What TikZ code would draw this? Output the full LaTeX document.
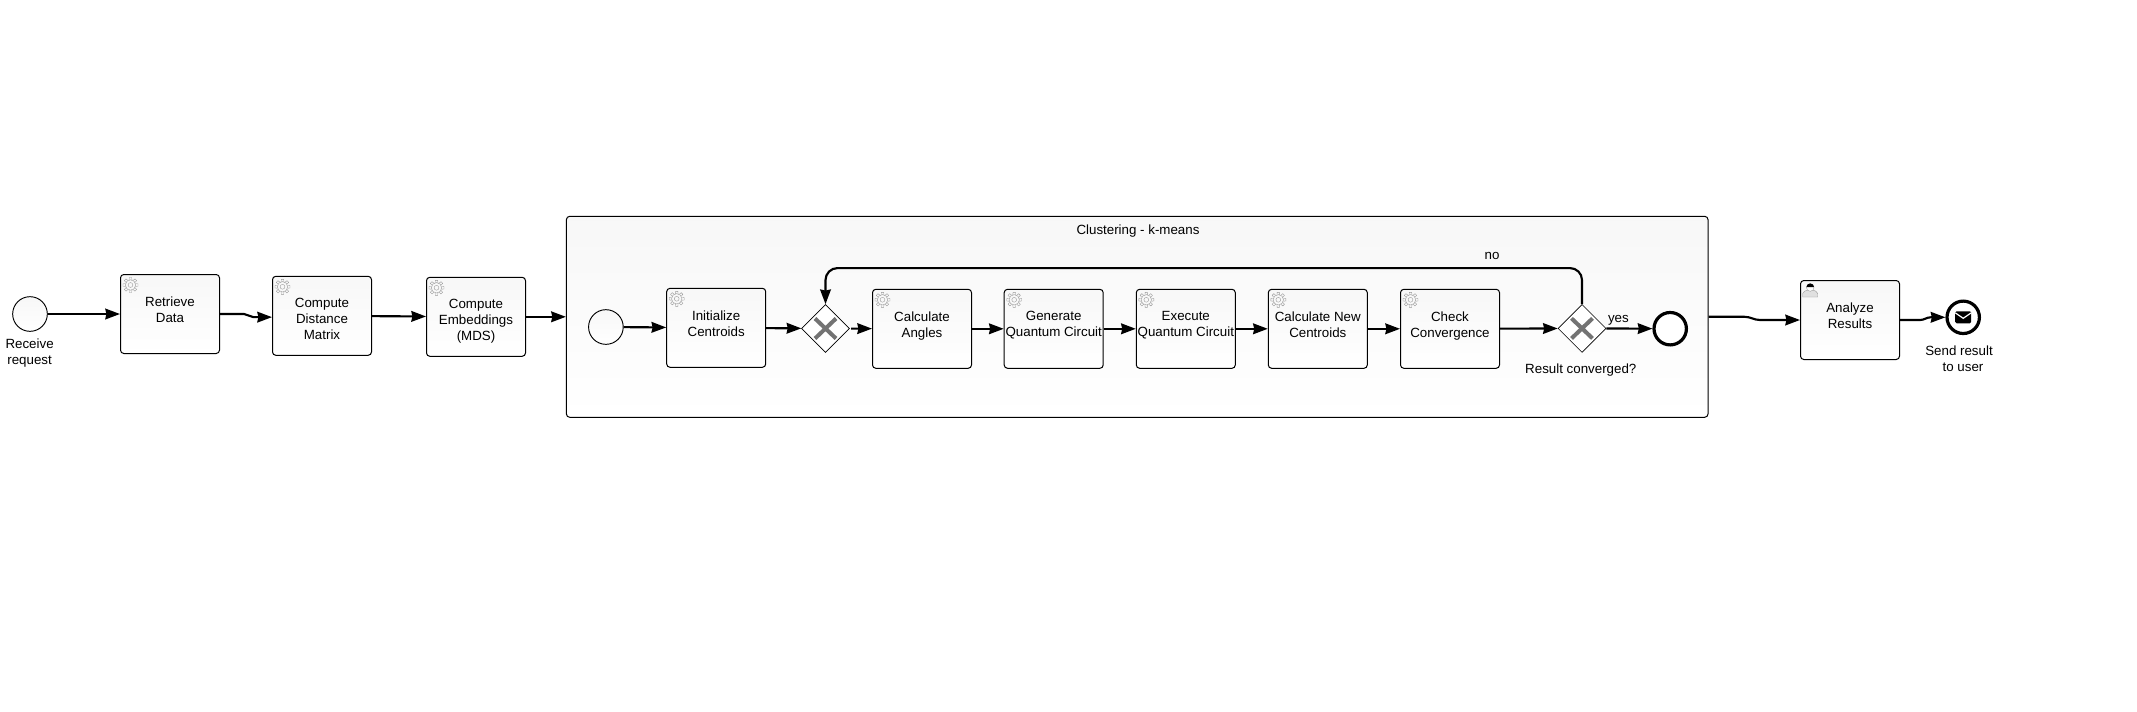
\documentclass[tikz,border=0pt]{standalone}
\usepackage{fontspec}
\setmainfont{Liberation Sans}
\usetikzlibrary{arrows.meta,shapes.geometric}

% text starts at a fixed depth below the top of the box
\newcommand{\tasktext}[1]{\parbox[c][59.25pt][t]{73pt}{\centering\vspace*{16.6pt}#1}}

\tikzset{
  taskbox/.style={draw,line width=.75pt,rounded corners=2.5pt,top color=black!3,bottom color=white,
    minimum width=74.25pt,minimum height=59.25pt,inner sep=0pt},
  eventstart/.style={circle,draw,line width=.7pt,top color=black!3,bottom color=white,minimum size=26pt,inner sep=0pt},
  eventend/.style={circle,draw,line width=2.4pt,fill=white,minimum size=24.3pt,inner sep=0pt},
  gatewaynode/.style={diamond,draw,line width=.5pt,fill=white,minimum width=36pt,minimum height=36pt,inner sep=0pt},
  bpmnlabel/.style={align=center,inner sep=0pt},
  flow/.style={line width=1.6pt,-{Stealth[length=11pt,width=8pt,inset=.8pt]}},
  iconline/.style={draw=black!40,line width=.3pt},
  gearicon/.pic={
    \draw[iconline] (0,0) circle (5.2) (0,0) circle (2.4);
    \foreach \a in {0,45,...,315}
      \draw[iconline] ({\a-15}:5.2) -- ({\a-9}:7.6) -- ({\a+9}:7.6) -- ({\a+15}:5.2);
  },
  personicon/.pic={
    \draw[iconline,fill=black!12] (-7.5,7) -- (-7.5,3.5) .. controls (-7.5,1) and (-4,1) .. (-2.5,0)
      -- (2.5,0) .. controls (4,1) and (7.5,1) .. (7.5,3.5) -- (7.5,7) -- cycle;
    \draw[iconline,fill=white] (0,-2.5) circle (3.8);
    \fill[black] (-3.8,-3) arc (180:360:3.8 and 3.6) -- cycle;
  },
  mailicon/.pic={
    \fill[black,rounded corners=1pt] (-8,-6) rectangle (8,6);
    \draw[white,line width=.9pt] (-8,-4.5) -- (0,1) -- (8,-4.5);
  },
  gatewaycross/.pic={
    \draw[black!55,line width=3pt] (-10.5,-10) -- (10.5,10) (-10.5,10) -- (10.5,-10);
  }
}

\begin{document}
\begin{tikzpicture}[x=.75pt,y=-.75pt]
  \useasboundingbox (0,0) rectangle (2137,711);

  % Outer tasks
  \node[eventstart] (receive) at (30,314) {};
  \node[bpmnlabel] (receivelabel) at (29.6,353.5) {Receive\\request};
  \node[taskbox] (retrieve) at (170,314) {\tasktext{Retrieve\\Data}};
  \node[taskbox] (distance) at (322,315.8) {\tasktext{Compute\\Distance\\Matrix}};
  \node[taskbox] (embed) at (476,316.8) {\tasktext{Compute\\Embeddings\\(MDS)}};

  % Subprocess
  \node[draw,line width=.75pt,rounded corners=2.5pt,top color=black!3,bottom color=white,
    minimum width=856.2pt,minimum height=150.75pt,inner sep=0pt] (clustering) at (1137.2,316.8) {};
  \node[bpmnlabel] (clusteringlabel) at (1138,231) {Clustering - k-means};
  \node[eventstart] (begin) at (605.9,327) {};
  \node[taskbox] (init) at (716.2,327.8) {\tasktext{Initialize\\Centroids}};
  \node[gatewaynode] (merge) at (825.5,328.5) {};
  \node[taskbox] (angles) at (922,328.8) {\tasktext{Calculate\\Angles}};
  \node[taskbox] (generate) at (1053.7,328.8) {\tasktext{Generate\\Quantum Circuit}};
  \node[taskbox] (execute) at (1185.8,328.8) {\tasktext{Execute\\Quantum Circuit}};
  \node[taskbox] (newcentroids) at (1317.8,328.8) {\tasktext{Calculate New\\Centroids}};
  \node[taskbox] (check) at (1450,328.8) {\tasktext{Check\\Convergence}};
  \node[gatewaynode] (converged) at (1582,328.4) {};
  \node[bpmnlabel] (convergedlabel) at (1580.8,369.7) {Result converged?};
  \node[eventend] (finish) at (1670.2,328.7) {};
  \node[bpmnlabel] (yeslabel) at (1618.4,320.5) {yes};
  \node[bpmnlabel] (nolabel) at (1492,256.3) {no};

  % After the subprocess
  \node[taskbox] (analyze) at (1850,320) {\tasktext{Analyze\\Results}};
  \node[eventend] (sendresult) at (1963.2,317.3) {};
  \node[bpmnlabel] (sendlabel) at (1959,358.5) {Send result\\\hspace*{6pt}to user};

  % Icons
  \foreach \t in {retrieve,distance,embed,init,angles,generate,execute,newcentroids,check}
    \pic at ([shift={(10.5,11)}]\t.north west) {gearicon};
  \pic at ([shift={(10.2,10)}]analyze.north west) {personicon};
  \pic at (sendresult) {mailicon};
  \pic at (merge) {gatewaycross};
  \pic at (converged) {gatewaycross};

  % Flows
  \draw[flow] (receive) -- (retrieve);
  \draw[flow] (retrieve.east) -- ([xshift=18pt]retrieve.east) to[out=0,in=180] ([shift={(-14pt,-1pt)}]distance.west) -- ([yshift=-1pt]distance.west);
  \draw[flow] (distance) -- (embed);
  \draw[flow] (embed) -- (clustering);
  \draw[flow] (begin) -- (init);
  \draw[flow] (init) -- (merge);
  \draw[flow,shorten <=1pt] (merge) -- (angles);
  \draw[flow] (angles) -- (generate);
  \draw[flow] (generate) -- (execute);
  \draw[flow] (execute) -- (newcentroids);
  \draw[flow] (newcentroids) -- (check);
  \draw[flow] (check) -- (converged);
  \draw[flow] (converged) -- (finish);
  \draw[flow,rounded corners=9pt] (converged.north) -- ++(0,-36) -| (merge.north);
  \draw[flow] (clustering.east) -- ([xshift=27pt]clustering.east) to[out=0,in=180] ([xshift=-30pt]analyze.west) -- (analyze.west);
  \draw[flow] (analyze.east) -- ([xshift=15pt]analyze.east) to[out=0,in=180] ([xshift=-11pt]sendresult.west) -- (sendresult.west);
\end{tikzpicture}
\end{document}
